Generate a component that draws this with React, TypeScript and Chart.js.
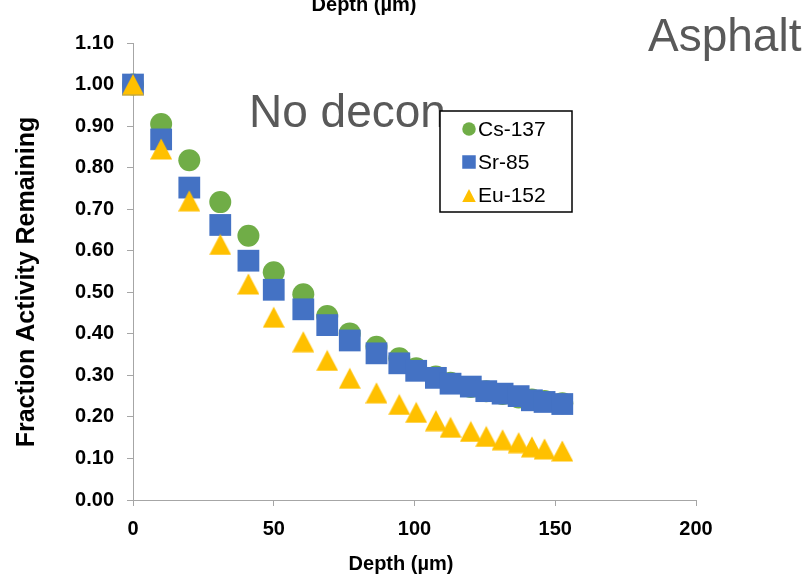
import React, { useEffect, useRef } from 'react';
import { Chart, registerables } from 'chart.js';

Chart.register(...registerables);

// ---------- data ----------
const DEPTH = [0, 10, 20, 31, 41, 50, 60.5, 69, 77, 86.5, 94.6, 100.6, 107.6, 112.8, 120, 125.5, 131.3, 137, 141.7, 146.2, 152.5];
const CS137 = [1.0, 0.905, 0.818, 0.717, 0.636, 0.548, 0.495, 0.443, 0.401, 0.369, 0.341, 0.317, 0.297, 0.282, 0.272, 0.262, 0.255, 0.247, 0.242, 0.238, 0.233];
const SR85 = [1.0, 0.868, 0.752, 0.662, 0.576, 0.506, 0.459, 0.421, 0.384, 0.353, 0.329, 0.311, 0.294, 0.28, 0.273, 0.262, 0.256, 0.25, 0.24, 0.236, 0.231];
const EU152 = [1.0, 0.845, 0.72, 0.615, 0.52, 0.44, 0.381, 0.336, 0.293, 0.258, 0.23, 0.211, 0.191, 0.175, 0.165, 0.153, 0.145, 0.138, 0.128, 0.123, 0.118];

const SERIES_LABELS = ['Cs-137', 'Sr-85', 'Eu-152'];
const SERIES_COLORS = ['#70AD47', '#4472C4', '#FFC000'];
const SERIES_SHAPES = ['circle', 'square', 'triangle'];

const X_TITLE = 'Depth (µm)';
const TOP_TITLE = 'Depth (µm)';
const Y_TITLE = 'Fraction Activity Remaining';
const NOTE_1 = 'No decon';
const NOTE_2 = 'Asphalt';

const X_MIN = 0, X_MAX = 200, X_STEP = 50;
const Y_MIN = 0, Y_MAX = 1.1, Y_STEP = 0.1;

const FONT = "'Liberation Sans', Arial, sans-serif";
const AXIS_GRAY = '#a6a6a6';

// ---------- marker helpers ----------
function drawMarker(ctx: CanvasRenderingContext2D, shape: string, cx: number, cy: number, size: number, color: string) {
  ctx.fillStyle = color;
  ctx.beginPath();
  if (shape === 'circle') {
    ctx.arc(cx, cy, size / 2, 0, Math.PI * 2);
  } else if (shape === 'square') {
    ctx.rect(cx - size / 2, cy - size / 2, size, size);
  } else {
    const h = size * 0.95;
    ctx.moveTo(cx, cy - h / 2);
    ctx.lineTo(cx + size / 2, cy + h / 2);
    ctx.lineTo(cx - size / 2, cy + h / 2);
    ctx.closePath();
  }
  ctx.fill();
}

function markerCanvas(shape: string, size: number, color: string) {
  const c = document.createElement('canvas');
  c.width = size;
  c.height = size;
  const ctx = c.getContext('2d')!;
  drawMarker(ctx, shape, size / 2, size / 2, size, color);
  return c;
}

const overlayPlugin = {
  id: 'overlay',
  afterDraw(chart: any) {
    const ctx: CanvasRenderingContext2D = chart.ctx;
    ctx.save();
    // annotations
    ctx.textAlign = 'left';
    ctx.textBaseline = 'alphabetic';
    ctx.fillStyle = '#595959';
    ctx.font = `46px ${FONT}`;
    ctx.fillText(NOTE_1, 249, 127);
    ctx.fillText(NOTE_2, 648, 51);

    // titles
    ctx.fillStyle = '#000';
    ctx.textAlign = 'center';
    ctx.font = `bold 20px ${FONT}`;
    ctx.fillText(TOP_TITLE, 364, 11);
    ctx.fillText(X_TITLE, 401, 570);
    ctx.save();
    ctx.translate(27, 282);
    ctx.rotate(-Math.PI / 2);
    ctx.font = `bold 25px ${FONT}`;
    ctx.textBaseline = 'middle';
    ctx.fillText(Y_TITLE, 0, 0);
    ctx.restore();

    // legend
    const lx = 440, ly = 111, lw = 132, lh = 101;
    ctx.fillStyle = '#fff';
    ctx.fillRect(lx, ly, lw, lh);
    ctx.strokeStyle = '#000';
    ctx.lineWidth = 1.5;
    ctx.strokeRect(lx, ly, lw, lh);
    ctx.font = `21px ${FONT}`;
    ctx.textAlign = 'left';
    ctx.textBaseline = 'alphabetic';
    const rowCenters = [129, 162, 195.5];
    chart.data.datasets.forEach((ds: any, i: number) => {
      const cy = rowCenters[i];
      drawMarker(ctx, SERIES_SHAPES[i], 469, cy, 13.5, SERIES_COLORS[i]);
      ctx.fillStyle = '#000';
      ctx.fillText(ds.label, 478, cy + 6.5);
    });
    ctx.restore();
  },
};

export default function App() {
  const ref = useRef<HTMLCanvasElement | null>(null);

  useEffect(() => {
    if (!ref.current) return;
    const seriesValues = [CS137, SR85, EU152];
    const datasets = seriesValues.map((vals, i) => {
      const base: any = {
        label: SERIES_LABELS[i],
        data: DEPTH.map((x, j) => ({ x, y: vals[j] })),
        backgroundColor: SERIES_COLORS[i],
        borderColor: SERIES_COLORS[i],
        borderWidth: 0,
        showLine: false,
        clip: false,
        order: 3 - i,
      };
      if (SERIES_SHAPES[i] === 'circle') {
        base.pointStyle = 'circle';
        base.pointRadius = 11;
      } else if (SERIES_SHAPES[i] === 'square') {
        base.pointStyle = 'rect';
        base.pointRadius = 15.4;
      } else {
        base.pointStyle = markerCanvas('triangle', 22, SERIES_COLORS[i]);
        base.pointRadius = 11;
      }
      base.pointHoverRadius = base.pointRadius;
      return base;
    });

    const chart = new Chart(ref.current, {
      type: 'scatter',
      data: { datasets },
      options: {
        animation: false,
        responsive: false,
        devicePixelRatio: 1,
        events: [],
        layout: { padding: { top: 43, right: 112, left: 0, bottom: 0 } },
        plugins: {
          legend: { display: false },
          tooltip: { enabled: false },
          title: { display: false },
        },
        scales: {
          x: {
            type: 'linear',
            min: X_MIN,
            max: X_MAX,
            ticks: {
              stepSize: X_STEP,
              color: '#000',
              font: { family: FONT, size: 20, weight: 'bold' },
              padding: 11,
            },
            grid: { display: true, drawOnChartArea: false, drawTicks: true, tickLength: 6, color: AXIS_GRAY },
            border: { display: true, color: AXIS_GRAY, width: 1 },
            title: { display: false },
            afterFit: (s: any) => { s.height = 77; },
          },
          y: {
            type: 'linear',
            min: Y_MIN,
            max: Y_MAX,
            ticks: {
              stepSize: Y_STEP,
              color: '#000',
              font: { family: FONT, size: 20, weight: 'bold' },
              padding: 13,
              callback: (v: any) => Number(v).toFixed(2),
            },
            grid: { display: true, drawOnChartArea: false, drawTicks: true, tickLength: 6, color: AXIS_GRAY },
            border: { display: true, color: AXIS_GRAY, width: 1 },
            title: { display: false },
            afterFit: (s: any) => { s.width = 133; },
          },
        },
      } as any,
      plugins: [overlayPlugin],
    });
    return () => chart.destroy();
  }, []);

  return (
    <div style={{ position: 'absolute', left: 0, top: 0, width: 808, height: 577, background: '#fff' }}>
      <canvas ref={ref} width={808} height={577} style={{ display: 'block' }} />
    </div>
  );
}
